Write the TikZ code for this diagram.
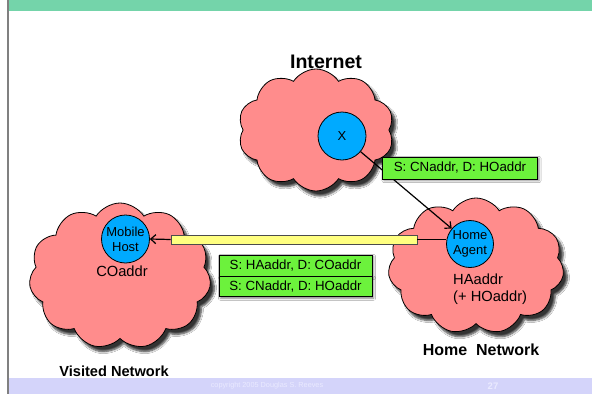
\documentclass[tikz,border=0pt]{standalone}
\usepackage{fontspec}
\setmainfont{Liberation Sans}
\usetikzlibrary{shapes.symbols,shadows.blur,arrows.meta}

\definecolor{bandgreen}{RGB}{116,212,170}
\definecolor{bandlav}{RGB}{212,212,250}
\definecolor{foottext}{RGB}{234,234,255}
\definecolor{cloudpink}{RGB}{255,140,140}
\definecolor{hostblue}{RGB}{0,170,255}
\definecolor{pktgreen}{RGB}{108,242,60}
\definecolor{tunyellow}{RGB}{255,255,128}
\definecolor{railgray}{RGB}{128,128,128}

\newcommand{\fsz}[1]{\fontsize{#1}{#1}\selectfont}

\begin{document}
\begin{tikzpicture}[x=1pt,y=-1pt,
  net/.style={cloud, cloud puffs=10, cloud puff arc=115, cloud ignores aspect,
    draw=black, line width=0.8pt, fill=cloudpink, inner sep=0pt,
    blur shadow={shadow xshift=4pt, shadow yshift=-5pt,
      shadow blur steps=6, shadow opacity=80}},
  host/.style={circle, draw=black, line width=0.8pt, fill=hostblue,
    minimum size=48pt, inner sep=0pt, align=center,
    font={\fontsize{13}{15}\selectfont}},
  pkt/.style={rectangle, draw=black, line width=0.7pt, fill=pktgreen,
    inner sep=0pt, font=\fsz{13.3},
    blur shadow={shadow xshift=1.5pt, shadow yshift=-1.5pt,
      shadow blur steps=3, shadow opacity=50}},
  tunnelbar/.style={rectangle, draw=black!70, line width=0.7pt,
    fill=tunyellow, inner sep=0pt},
  netname/.style={font=\bfseries, inner sep=0pt},
  addr/.style={inner sep=0pt, align=left, font={\fontsize{14.7}{17}\selectfont}},
  link/.style={line width=1.2pt, draw=black},
  tip/.style={-{Straight Barb[length=5pt,width=9pt,line width=1.2pt]}}
]
% page frame
\path[use as bounding box, fill=white] (0,0) rectangle (592,394);
\fill[bandgreen] (7,0) rectangle (592,11);
\fill[bandlav] (7,378) rectangle (592,394);
\fill[railgray] (7,0) rectangle (9,394);
\node[inner sep=0pt, text=foottext, font=\fsz{7.3}] (copy) at (267,386)
  {copyright 2005 Douglas S. Reeves};
\node[inner sep=0pt, text=foottext, font={\fsz{9.5}\bfseries}] (pageno) at (493,386) {27};

% networks
\node[net, minimum width=156pt, minimum height=122pt] (inet) at (316,130) {};
\node[net, cloud puffs=11, minimum width=182pt, minimum height=146pt] (visited) at (120,276) {};
\node[net, cloud puffs=11, minimum width=176pt, minimum height=136pt] (home) at (476,266) {};

\node[netname, font={\fsz{19.6}\bfseries}] (inetlbl) at (326,62) {Internet};
\node[netname, font={\fsz{14.6}\bfseries}] (vislbl) at (114,371) {Visited Network};
\node[netname, font={\fsz{16}\bfseries}] (homelbl) at (481,350) {Home\ \ Network};

% hosts
\node[host] (x) at (342,136) {X};
\node[host] (mh) at (125.5,239) {Mobile\\Host};
\node[host, minimum size=47pt] (ha) at (470,244) {Home\\Agent};

\node[addr] (coaddr) at (122,271.5) {COaddr};
\node[addr, anchor=west] (haaddr) at (453,289) {HAaddr\\(+ HOaddr)};

% tunnel from home agent to mobile host
\node[tunnelbar, minimum width=246pt, minimum height=9pt] (tun) at (294,239.5) {};
\draw[link] (tun.east) -- (tun.east -| ha.west);
\draw[link, tip] (tun.west) -- (mh.east);

% original packet delivered to the home agent
\draw[link, tip] (x) -- (ha);

% packet headers
\node[pkt, minimum width=155pt, minimum height=22pt] (orig) at (460,168)
  {S: CNaddr, D: HOaddr};
\node[pkt, minimum width=153pt, minimum height=21pt] (outer) at (295.5,265.5)
  {S: HAaddr, D: COaddr};
\node[pkt, minimum width=153pt, minimum height=20pt, anchor=north] (inner)
  at (outer.south) {S: CNaddr, D: HOaddr};
\end{tikzpicture}
\end{document}
